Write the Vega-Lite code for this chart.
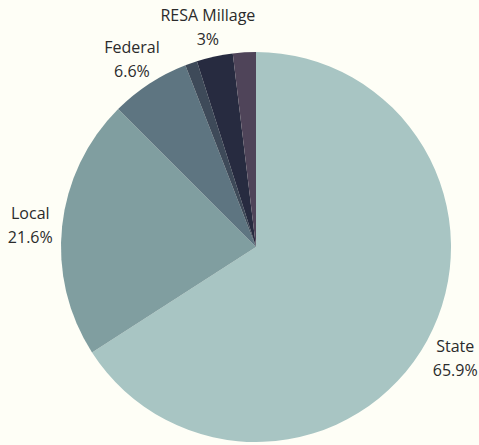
{
  "$schema": "https://vega.github.io/schema/vega-lite/v6.json",
  "width": 446,
  "height": 396,
  "autosize": {"type": "none"},
  "padding": {"left": 33, "top": 49, "right": 0, "bottom": 0},
  "background": "#fefef6",
  "config": {"view": {"stroke": null}},
  "data": {
    "values": [
      {"category": "State", "value": 65.9, "order": 1, "label": "State\n65.9%"},
      {"category": "Local", "value": 21.6, "order": 2, "label": "Local\n21.6%"},
      {"category": "Federal", "value": 6.6, "order": 3, "label": "Federal\n6.6%"},
      {"category": "Other A", "value": 1.0, "order": 4, "label": ""},
      {"category": "RESA Millage", "value": 3.0, "order": 5, "label": "RESA Millage\n3%"},
      {"category": "Other B", "value": 1.9, "order": 6, "label": ""}
    ]
  },
  "encoding": {
    "theta": {"field": "value", "type": "quantitative", "stack": true},
    "order": {"field": "order", "type": "quantitative"}
  },
  "layer": [
    {
      "mark": {"type": "arc", "outerRadius": 195},
      "encoding": {
        "color": {
          "field": "category",
          "type": "nominal",
          "legend": null,
          "scale": {
            "domain": ["State", "Local", "Federal", "Other A", "RESA Millage", "Other B"],
            "range": ["#a8c5c3", "#809ea0", "#5e7581", "#3e4a59", "#272b40", "#4f4459"]
          }
        }
      }
    },
    {
      "mark": {"type": "text", "radius": 227, "dy": -9, "lineBreak": "\n", "font": "Open Sans", "fontSize": 16, "color": "#2b2b2b", "align": "center", "baseline": "middle", "lineHeight": 24},
      "encoding": {
        "text": {"field": "label", "type": "nominal"}
      }
    }
  ]
}
